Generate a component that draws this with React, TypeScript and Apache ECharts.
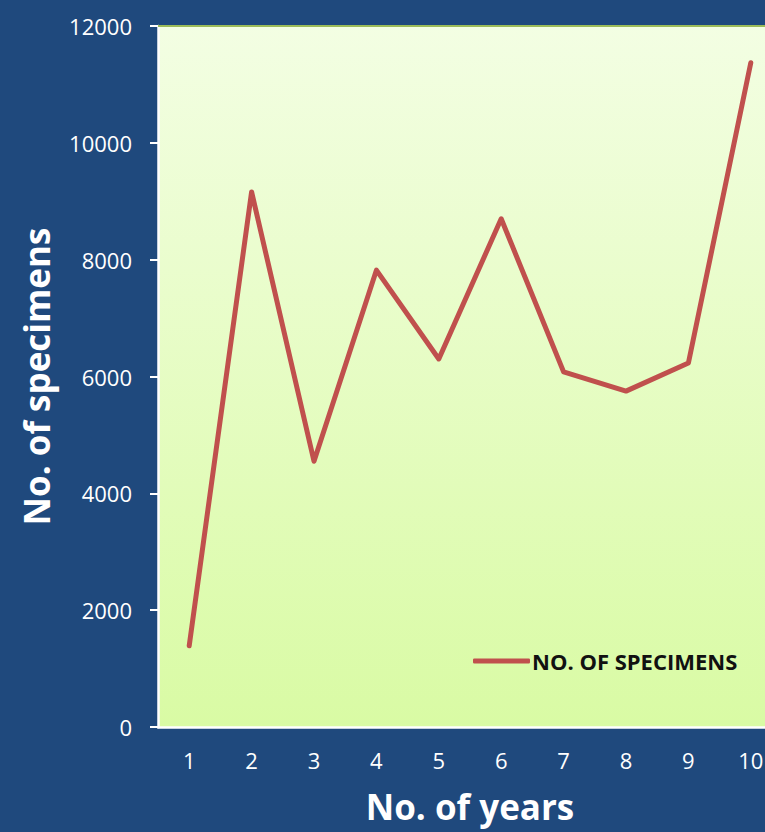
import React, { useEffect, useRef } from "react";
import * as echarts from "echarts";

const years = ["1", "2", "3", "4", "5", "6", "7", "8", "9", "10"];
const specimens = [1390, 9160, 4550, 7820, 6300, 8700, 6080, 5750, 6230, 11370];
const seriesName = "NO. OF SPECIMENS";
const yMin = 0;
const yMax = 12000;
const yStep = 2000;

const FONT = "'Open Sans', sans-serif";

export default function App() {
  const ref = useRef<HTMLDivElement>(null);
  useEffect(() => {
    document.body.style.margin = "0";
    const chart = echarts.init(ref.current!, undefined, { renderer: "svg" });
    chart.setOption({
      animation: false,
      backgroundColor: "#1F497D",
      textStyle: { fontFamily: FONT },
      grid: {
        left: 158,
        top: 26,
        bottom: 105,
        right: 0,
        show: true,
        borderWidth: 0,
        backgroundColor: new echarts.graphic.LinearGradient(0, 0, 0, 1, [
          { offset: 0, color: "#F3FEE3" },
          { offset: 1, color: "#D9FBA4" },
        ]),
      },
      legend: {
        left: 468,
        top: 645,
        itemWidth: 57,
        itemHeight: 5,
        itemGap: 10,
        icon: "roundRect",
        data: [seriesName],
        textStyle: { color: "#111", fontWeight: "bold", fontSize: 22, fontFamily: FONT, padding: [0, 0, 0, -3] },
      },
      xAxis: [
        {
          type: "category",
          data: years,
          boundaryGap: true,
          name: "No. of years",
          nameLocation: "middle",
          nameGap: 62,
          nameTextStyle: { color: "#fff", fontSize: 35, fontWeight: "bold", fontFamily: FONT },
          axisLine: { lineStyle: { color: "#fff", width: 2.5 } },
          axisTick: { show: false },
          axisLabel: { color: "#fff", fontSize: 22, margin: 22, fontFamily: FONT },
        },
        {
          type: "category",
          position: "top",
          data: years,
          axisLine: { lineStyle: { color: "#9BBB59", width: 2 } },
          axisTick: { show: false },
          axisLabel: { show: false },
        },
      ],
      yAxis: {
        type: "value",
        min: yMin,
        max: yMax,
        interval: yStep,
        name: "No. of specimens",
        nameLocation: "middle",
        nameGap: 104,
        nameTextStyle: { color: "#fff", fontSize: 35, fontWeight: "bold", fontFamily: FONT },
        axisLine: { show: true, lineStyle: { color: "#fff", width: 2.5 } },
        axisTick: { show: true, length: 8, lineStyle: { color: "#fff", width: 2 } },
        splitLine: { show: false },
        axisLabel: {
          color: "#fff",
          fontSize: 22,
          margin: 26,
          fontFamily: FONT,
          formatter: (v: number) => String(v),
        },
      },
      series: [
        {
          name: seriesName,
          type: "line",
          data: specimens,
          showSymbol: false,
          symbol: "none",
          lineStyle: { color: "#C0504D", width: 5, cap: "round", join: "round" },
          itemStyle: { color: "#C0504D" },
        },
      ],
    });
    return () => chart.dispose();
  }, []);
  return (
    <div style={{ width: 765, height: 832, overflow: "hidden" }}>
      <div ref={ref} style={{ width: 782, height: 832 }} />
    </div>
  );
}
